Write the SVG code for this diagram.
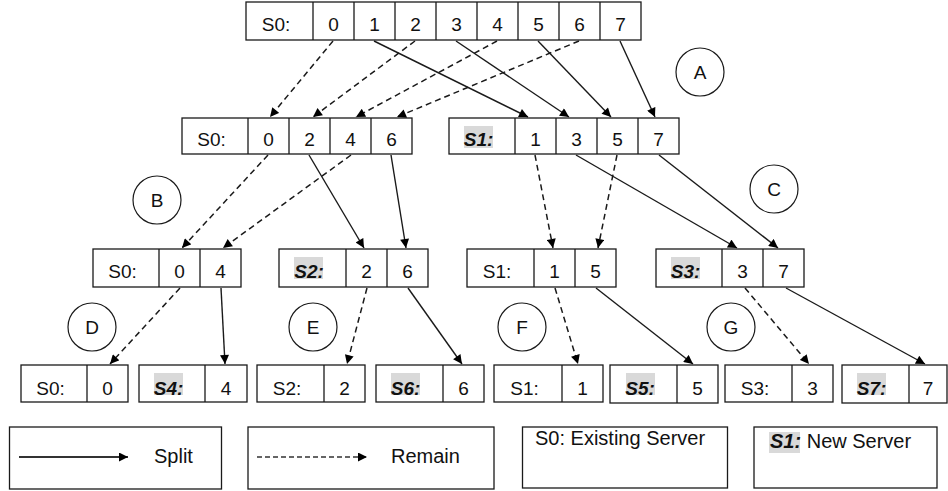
<svg xmlns="http://www.w3.org/2000/svg" width="948" height="491" viewBox="0 0 948 491">
  <style>
    .box { fill: #ffffff; stroke: #1a1a1a; stroke-width: 1.3; }
    .div { stroke: #1a1a1a; stroke-width: 1.3; }
    .t { font-family: "Liberation Sans", Arial, sans-serif; font-size: 19px; fill: #111; text-anchor: middle; }
    .new { font-weight: bold; font-style: italic; }
    .hl { fill: #d9d9d9; }
    .circ { fill: #ffffff; stroke: #1a1a1a; stroke-width: 1.2; }
    .split { stroke: #1a1a1a; stroke-width: 1.4; fill: none; marker-end: url(#ah); }
    .remain { stroke: #1a1a1a; stroke-width: 1.5; fill: none; stroke-dasharray: 6 4; marker-end: url(#ah); }
    .lg { font-family: "Liberation Sans", Arial, sans-serif; font-size: 20px; fill: #111; }
  </style>
  <defs>
    <marker id="ah" viewBox="0 0 10 10" markerWidth="10" markerHeight="9" refX="10" refY="5" orient="auto" markerUnits="userSpaceOnUse">
      <path d="M0,0 L10,5 L0,10 z" fill="#000"/>
    </marker>
  </defs>

  <rect width="948" height="491" fill="#ffffff"/>

  <!-- connectors -->
  <g id="connectors">
    <!-- level 1 -> level 2 -->
    <line class="remain" x1="333" y1="41" x2="270" y2="117"/>
    <line class="remain" x1="415" y1="41" x2="313" y2="117"/>
    <line class="remain" x1="497" y1="41" x2="356" y2="117"/>
    <line class="remain" x1="579" y1="41" x2="397" y2="117"/>
    <line class="split" x1="374" y1="41" x2="528" y2="117"/>
    <line class="split" x1="456" y1="41" x2="569" y2="117"/>
    <line class="split" x1="538" y1="41" x2="611" y2="117"/>
    <line class="split" x1="620" y1="41" x2="655" y2="117"/>
    <!-- level 2 -> level 3 -->
    <line class="remain" x1="268" y1="155" x2="182" y2="248"/>
    <line class="remain" x1="351" y1="155" x2="223" y2="248"/>
    <line class="split" x1="309" y1="155" x2="364" y2="248"/>
    <line class="split" x1="391" y1="155" x2="406" y2="248"/>
    <line class="remain" x1="535" y1="155" x2="553" y2="248"/>
    <line class="remain" x1="617" y1="155" x2="598" y2="248"/>
    <line class="split" x1="576" y1="155" x2="737" y2="248"/>
    <line class="split" x1="659" y1="155" x2="778" y2="248"/>
    <!-- level 3 -> level 4 -->
    <line class="remain" x1="180" y1="288" x2="110" y2="364"/>
    <line class="split" x1="221" y1="288" x2="225" y2="364"/>
    <line class="remain" x1="367" y1="288" x2="347" y2="364"/>
    <line class="split" x1="408" y1="288" x2="462" y2="364"/>
    <line class="remain" x1="555" y1="288" x2="578" y2="364"/>
    <line class="split" x1="596" y1="288" x2="693" y2="364"/>
    <line class="remain" x1="745" y1="288" x2="809" y2="364"/>
    <line class="split" x1="786" y1="288" x2="925" y2="364"/>
  </g>

  <!-- level 1 -->
  <g id="s0-all">
    <rect class="box" x="246" y="2" width="395" height="38"/>
    <path class="div" d="M313,2V40M354,2V40M395,2V40M436,2V40M477,2V40M518,2V40M559,2V40M600,2V40"/>
    <text class="t" x="276" y="31">S0:</text>
    <text class="t" x="333.5" y="31">0</text>
    <text class="t" x="374.5" y="31">1</text>
    <text class="t" x="415.5" y="31">2</text>
    <text class="t" x="456.5" y="31">3</text>
    <text class="t" x="497.5" y="31">4</text>
    <text class="t" x="538.5" y="31">5</text>
    <text class="t" x="579.5" y="31">6</text>
    <text class="t" x="620.5" y="31">7</text>
  </g>

  <!-- level 2 -->
  <g id="s0-even">
    <rect class="box" x="182" y="118" width="230" height="36"/>
    <path class="div" d="M248,118V154M289,118V154M330,118V154M371,118V154"/>
    <text class="t" x="211.5" y="146">S0:</text>
    <text class="t" x="268.5" y="146">0</text>
    <text class="t" x="309.5" y="146">2</text>
    <text class="t" x="350.5" y="146">4</text>
    <text class="t" x="391.5" y="146">6</text>
  </g>
  <g id="s1-odd">
    <rect class="box" x="449" y="118" width="230" height="36"/>
    <path class="div" d="M515,118V154M556,118V154M597,118V154M638,118V154"/>
    <rect class="hl" x="464" y="126" width="29" height="22"/>
    <text class="t new" x="478.5" y="146">S1:</text>
    <text class="t" x="535.5" y="146">1</text>
    <text class="t" x="576.5" y="146">3</text>
    <text class="t" x="617.5" y="146">5</text>
    <text class="t" x="658.5" y="146">7</text>
  </g>

  <!-- level 3 -->
  <g id="s0-04">
    <rect class="box" x="93" y="249" width="148" height="38"/>
    <path class="div" d="M159,249V287M200,249V287"/>
    <text class="t" x="122.5" y="278">S0:</text>
    <text class="t" x="179.5" y="278">0</text>
    <text class="t" x="220.5" y="278">4</text>
  </g>
  <g id="s2-26">
    <rect class="box" x="279" y="249" width="149" height="38"/>
    <path class="div" d="M346,249V287M387,249V287"/>
    <rect class="hl" x="294" y="257" width="29" height="22"/>
    <text class="t new" x="309" y="278">S2:</text>
    <text class="t" x="366.5" y="278">2</text>
    <text class="t" x="407.5" y="278">6</text>
  </g>
  <g id="s1-15">
    <rect class="box" x="467" y="249" width="149" height="38"/>
    <path class="div" d="M534,249V287M575,249V287"/>
    <text class="t" x="497" y="278">S1:</text>
    <text class="t" x="554.5" y="278">1</text>
    <text class="t" x="595.5" y="278">5</text>
  </g>
  <g id="s3-37">
    <rect class="box" x="656" y="249" width="148" height="38"/>
    <path class="div" d="M722,249V287M763,249V287"/>
    <rect class="hl" x="671" y="257" width="29" height="22"/>
    <text class="t new" x="685.5" y="278">S3:</text>
    <text class="t" x="742.5" y="278">3</text>
    <text class="t" x="783.5" y="278">7</text>
  </g>

  <!-- level 4 -->
  <g id="s0-0">
    <rect class="box" x="21" y="365" width="107" height="37"/>
    <path class="div" d="M87,365V402"/>
    <text class="t" x="50.5" y="395">S0:</text>
    <text class="t" x="107.5" y="395">0</text>
  </g>
  <g id="s4-4">
    <rect class="box" x="139" y="365" width="108" height="37"/>
    <path class="div" d="M205,365V402"/>
    <rect class="hl" x="154" y="373" width="29" height="22"/>
    <text class="t new" x="168.5" y="395">S4:</text>
    <text class="t" x="226" y="395">4</text>
  </g>
  <g id="s2-2">
    <rect class="box" x="257" y="365" width="108" height="37"/>
    <path class="div" d="M324,365V402"/>
    <text class="t" x="287" y="395">S2:</text>
    <text class="t" x="344.5" y="395">2</text>
  </g>
  <g id="s6-6">
    <rect class="box" x="376" y="365" width="108" height="37"/>
    <path class="div" d="M443,365V402"/>
    <rect class="hl" x="391" y="373" width="29" height="22"/>
    <text class="t new" x="405.5" y="395">S6:</text>
    <text class="t" x="463.5" y="395">6</text>
  </g>
  <g id="s1-1">
    <rect class="box" x="494" y="365" width="109" height="37"/>
    <path class="div" d="M562,365V402"/>
    <text class="t" x="524.5" y="395">S1:</text>
    <text class="t" x="582.5" y="395">1</text>
  </g>
  <g id="s5-5">
    <rect class="box" x="610" y="365" width="108" height="38"/>
    <path class="div" d="M677,365V403"/>
    <rect class="hl" x="626" y="373" width="29" height="22"/>
    <text class="t new" x="640" y="395">S5:</text>
    <text class="t" x="697.5" y="395">5</text>
  </g>
  <g id="s3-3">
    <rect class="box" x="725" y="365" width="108" height="37"/>
    <path class="div" d="M792,365V402"/>
    <text class="t" x="755" y="395">S3:</text>
    <text class="t" x="812.5" y="395">3</text>
  </g>
  <g id="s7-7">
    <rect class="box" x="842" y="365" width="105" height="38"/>
    <path class="div" d="M909,365V403"/>
    <rect class="hl" x="857" y="373" width="29" height="22"/>
    <text class="t new" x="871.5" y="395">S7:</text>
    <text class="t" x="928" y="395">7</text>
  </g>

  <!-- step markers -->
  <g id="step-a"><circle class="circ" cx="700" cy="72" r="24"/><text class="t" x="700" y="79">A</text></g>
  <g id="step-b"><circle class="circ" cx="157" cy="200" r="24"/><text class="t" x="157" y="207">B</text></g>
  <g id="step-c"><circle class="circ" cx="774" cy="189" r="24"/><text class="t" x="774" y="196">C</text></g>
  <g id="step-d"><circle class="circ" cx="92" cy="327" r="24"/><text class="t" x="92" y="334">D</text></g>
  <g id="step-e"><circle class="circ" cx="313" cy="327" r="24"/><text class="t" x="313" y="334">E</text></g>
  <g id="step-f"><circle class="circ" cx="522" cy="327" r="24"/><text class="t" x="522" y="334">F</text></g>
  <g id="step-g"><circle class="circ" cx="731" cy="327" r="24"/><text class="t" x="731" y="334">G</text></g>

  <!-- legend -->
  <g id="legend-split">
    <rect class="box" x="9.5" y="427" width="212" height="62"/>
    <line class="split" x1="19" y1="457" x2="128" y2="457" style="stroke:#333;stroke-width:1.8"/>
    <text class="lg" x="154" y="463">Split</text>
  </g>
  <g id="legend-remain">
    <rect class="box" x="248" y="427" width="246" height="62"/>
    <line class="remain" x1="257" y1="457" x2="367" y2="457" style="stroke:#333;stroke-width:1.6;stroke-dasharray:5 3"/>
    <text class="lg" x="391" y="463">Remain</text>
  </g>
  <g id="legend-existing">
    <rect class="box" x="522.5" y="427" width="205" height="61"/>
    <text class="lg" x="535" y="445">S0: Existing Server</text>
  </g>
  <g id="legend-new">
    <rect class="box" x="754" y="427" width="183" height="61"/>
    <rect class="hl" x="769" y="432" width="31" height="21"/>
    <text class="lg" x="770" y="448"><tspan font-weight="bold" font-style="italic">S1:</tspan> New Server</text>
  </g>
</svg>
